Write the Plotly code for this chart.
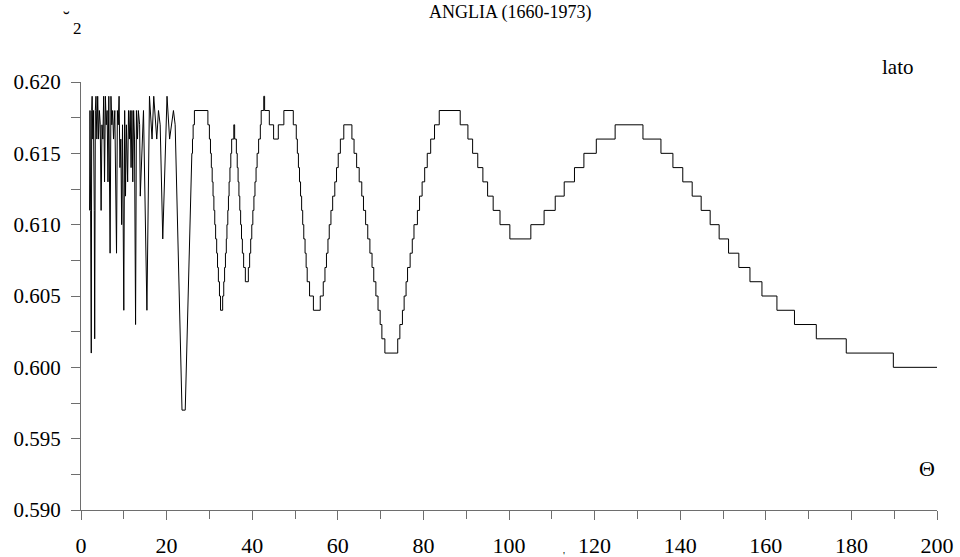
import plotly.graph_objects as go

# ---- data ----
# irregular (noisy) part, drawn as a plain polyline
noisy_theta = [2.0, 2.1, 2.25, 2.4, 2.5, 2.6, 2.75, 2.9, 3.1, 3.2, 3.35, 3.5, 3.7, 3.9, 4.1, 4.3,
               4.5, 4.7, 4.9, 5.1, 5.3, 5.5, 5.7, 5.9, 6.1, 6.3, 6.5, 6.8, 7.0, 7.2, 7.4, 7.6,
               7.9, 8.1, 8.3, 8.5, 8.7, 8.9, 9.1, 9.3, 9.5, 9.7, 10.0, 10.2, 10.4, 10.6, 10.9,
               11.1, 11.3, 11.5, 11.7, 11.9, 12.1, 12.3, 12.5, 12.75, 12.95, 13.2, 13.4, 13.7,
               13.85, 14.6, 15.4, 16.0, 16.6, 17.0, 17.35, 17.7, 18.1, 18.5, 19.1, 20.1, 20.7,
               21.2, 21.6, 22.0, 23.6, 24.35, 25.9]
noisy_g2 = [0.611, 0.618, 0.611, 0.601, 0.618, 0.619, 0.616, 0.618, 0.611, 0.602, 0.618, 0.619,
            0.616, 0.619, 0.616, 0.618, 0.617, 0.611, 0.617, 0.616, 0.619, 0.613, 0.619, 0.617,
            0.618, 0.613, 0.619, 0.608, 0.619, 0.617, 0.618, 0.616, 0.618, 0.614, 0.608, 0.618,
            0.617, 0.619, 0.614, 0.616, 0.610, 0.617, 0.604, 0.618, 0.612, 0.617, 0.613, 0.618,
            0.616, 0.618, 0.614, 0.618, 0.613, 0.618, 0.616, 0.603, 0.618, 0.616, 0.618, 0.617,
            0.612, 0.618, 0.604, 0.619, 0.616, 0.619, 0.617, 0.616, 0.618, 0.617, 0.609, 0.619,
            0.616, 0.617, 0.618, 0.617, 0.597, 0.597, 0.615]

# regular part: value taken from each theta onwards (step line)
step_theta = [25.9, 26.05, 26.2, 26.5, 29.65, 30.0, 30.25, 30.45, 30.65, 30.85, 31.05, 31.25,
              31.45, 31.7, 31.9, 32.1, 32.35, 32.6, 33.1, 33.35, 33.55, 33.75, 33.95, 34.1,
              34.3, 34.45, 34.6, 34.8, 35.0, 35.2, 35.7, 35.9, 36.3, 36.5, 36.7, 36.9, 37.1,
              37.3, 37.5, 37.7, 38.0, 38.4, 39.1, 39.4, 39.65, 39.9, 40.15, 40.4, 40.65, 40.9,
              41.15, 41.5, 41.9, 42.1, 42.7, 42.9, 44.0, 45.0, 46.1, 47.4, 49.6, 50.3, 50.55,
              50.8, 51.05, 51.3, 51.55, 51.8, 52.05, 52.35, 52.6, 52.85, 53.4, 54.3, 55.9,
              56.6, 57.0, 57.35, 57.7, 58.0, 58.4, 58.8, 59.3, 59.7, 60.1, 60.6, 61.4, 63.3,
              63.8, 64.4, 65.0, 65.6, 66.0, 66.5, 67.0, 67.5, 68.0, 68.4, 68.9, 69.4, 69.9,
              70.3, 71.0, 74.0, 74.5, 75.1, 75.5, 75.95, 76.3, 76.9, 77.4, 77.8, 78.6, 79.1,
              79.7, 80.3, 80.9, 81.7, 82.6, 83.7, 88.6, 90.4, 91.5, 92.7, 93.9, 95.0, 96.3,
              97.9, 100.2, 105.1, 108.2, 110.8, 112.9, 115.3, 117.5, 120.4, 124.8, 131.3,
              135.5, 138.3, 140.6, 142.8, 144.9, 147.0, 149.1, 151.3, 153.7, 156.3, 159.1,
              162.6, 166.7, 171.8, 178.8, 189.8, 200.0]
step_g2 = [0.615, 0.616, 0.617, 0.618, 0.617, 0.616, 0.615, 0.614, 0.613, 0.612, 0.611, 0.610,
           0.609, 0.608, 0.607, 0.606, 0.605, 0.604, 0.605, 0.606, 0.607, 0.608, 0.609, 0.610,
           0.611, 0.612, 0.613, 0.614, 0.615, 0.616, 0.617, 0.616, 0.615, 0.614, 0.613, 0.612,
           0.611, 0.610, 0.609, 0.608, 0.607, 0.606, 0.607, 0.608, 0.609, 0.610, 0.611, 0.612,
           0.613, 0.614, 0.615, 0.616, 0.617, 0.618, 0.619, 0.618, 0.617, 0.616, 0.617, 0.618,
           0.617, 0.616, 0.615, 0.614, 0.613, 0.612, 0.611, 0.610, 0.609, 0.608, 0.607, 0.606,
           0.605, 0.604, 0.605, 0.606, 0.607, 0.608, 0.609, 0.610, 0.611, 0.612, 0.613, 0.614,
           0.615, 0.616, 0.617, 0.616, 0.615, 0.614, 0.613, 0.612, 0.611, 0.610, 0.609, 0.608,
           0.607, 0.606, 0.605, 0.604, 0.603, 0.602, 0.601, 0.602, 0.603, 0.604, 0.605, 0.606,
           0.607, 0.608, 0.609, 0.610, 0.611, 0.612, 0.613, 0.614, 0.615, 0.616, 0.617, 0.618,
           0.617, 0.616, 0.615, 0.614, 0.613, 0.612, 0.611, 0.610, 0.609, 0.610, 0.611, 0.612,
           0.613, 0.614, 0.615, 0.616, 0.617, 0.616, 0.615, 0.614, 0.613, 0.612, 0.611, 0.610,
           0.609, 0.608, 0.607, 0.606, 0.605, 0.604, 0.603, 0.602, 0.601, 0.600, 0.600]

x_ticks = list(range(0, 201, 20))
y_ticks = [0.590, 0.595, 0.600, 0.605, 0.610, 0.615, 0.620]
y_tick_labels = ["0.590", "0.595", "0.600", "0.605", "0.610", "0.615", "0.620"]

FONT = "Liberation Serif, Times New Roman, serif"
AX = "#6e6e6e"

fig = go.Figure()
fig.add_trace(go.Scatter(x=noisy_theta, y=noisy_g2, mode="lines",
                         line=dict(color="black", width=1), showlegend=False))
fig.add_trace(go.Scatter(x=step_theta, y=step_g2, mode="lines",
                         line=dict(color="black", width=1, shape="hv"), showlegend=False))

fig.update_layout(
    width=960, height=557, autosize=False,
    margin=dict(l=81, r=23, t=82, b=47, autoexpand=False),
    paper_bgcolor="white", plot_bgcolor="white",
    font=dict(family=FONT, color="black", size=20),
    xaxis=dict(range=[0, 200], tickmode="array", tickvals=x_ticks, automargin=False,
               showline=True, linecolor=AX, linewidth=1.3, showgrid=False, zeroline=False,
               ticks="outside", ticklen=9, tickcolor=AX, tickwidth=1.3,
               ticklabelstandoff=6,
               tickfont=dict(family=FONT, size=22, color="black"),
               minor=dict(ticks="outside", ticklen=8, tickcolor=AX, tickwidth=1.3,
                          tickvals=[10, 30, 50, 70, 90, 110, 130, 150, 170, 190])),
    yaxis=dict(range=[0.590, 0.620], tickmode="array", tickvals=y_ticks,
               ticktext=y_tick_labels, automargin=False,
               showline=True, linecolor=AX, linewidth=1.3, showgrid=False, zeroline=False,
               ticks="outside", ticklen=9, tickcolor=AX, tickwidth=1.3,
               ticklabelstandoff=6,
               tickfont=dict(family=FONT, size=21, color="black"),
               minor=dict(ticks="outside", ticklen=9, tickcolor=AX, tickwidth=1.3,
                          tickvals=[0.5925, 0.5975, 0.6025, 0.6075, 0.6125, 0.6175])),
)

# annotations placed in pixel terms of the page (converted to paper coordinates)
L, R, T, B = 81, 937, 82, 510
def px(x):
    return (x - L) / (R - L)
def py(y):
    return (B - y) / (B - T)

ann = [
    dict(text="ANGLIA (1660-1973)", x=510, y=13, size=18),
    dict(text="lato", x=898, y=67, size=21),
    dict(text="Θ", x=927, y=468, size=22),
    dict(text="2", x=77, y=28, size=17),
    dict(text="˘", x=66, y=19, size=20),
    dict(text="'", x=564, y=555, size=11),
]
for a in ann:
    fig.add_annotation(text=a["text"], x=px(a["x"]), y=py(a["y"]), xref="paper", yref="paper",
                       showarrow=False, xanchor="center", yanchor="middle",
                       font=dict(family=FONT, size=a["size"], color="black"))

fig.write_html("out.html", config={"displayModeBar": False},
               post_script="document.body.style.margin='0';document.body.style.overflow='hidden';")
